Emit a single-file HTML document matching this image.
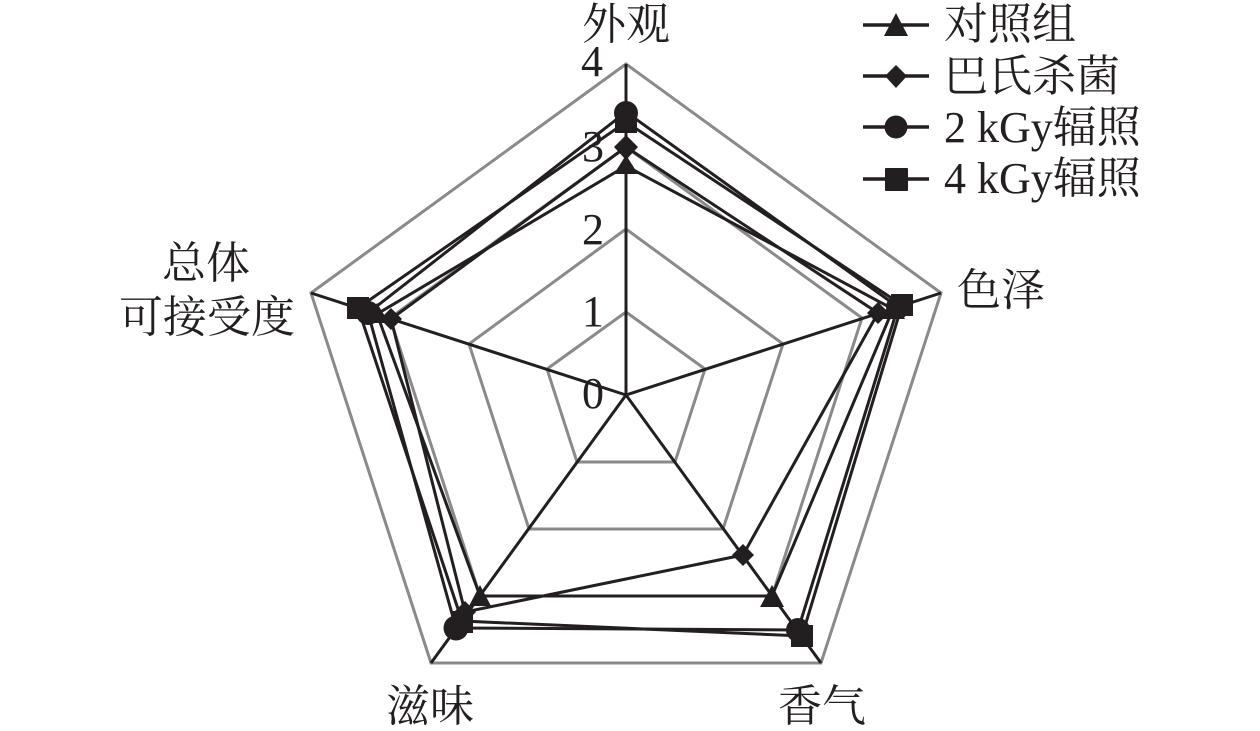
<!DOCTYPE html>
<html><head><meta charset="utf-8">
<style>
html,body{margin:0;padding:0;background:#fff;width:1260px;height:731px;overflow:hidden}
svg{display:block}
text{font-family:"Liberation Serif","Noto Serif CJK SC",serif;font-size:44px;fill:#231f20}
</style></head>
<body>
<svg width="1260" height="731" viewBox="0 0 1260 731" xmlns="http://www.w3.org/2000/svg">
<g fill="none" stroke="#8a8a8a" stroke-width="3" stroke-linejoin="miter">
<polygon points="626,64 941,293 821,663 431,663 311,293"/>
<polygon points="626,147 862,318 772,596 480,596 390,318"/>
<polygon points="626,229 783,344 723,529 529,529 469,344"/>
<polygon points="626,312 705,369 675,462 577,462 547,369"/>
</g>
<g stroke="#231f20" stroke-width="3">
<line x1="626" y1="395" x2="626" y2="64"/>
<line x1="626" y1="395" x2="941" y2="293"/>
<line x1="626" y1="395" x2="821" y2="663"/>
<line x1="626" y1="395" x2="431" y2="663"/>
<line x1="626" y1="395" x2="311" y2="293"/>
</g>
<g fill="none" stroke="#231f20" stroke-width="3" stroke-linejoin="miter">
<polygon points="626,166 893,309 772,596 480,596 377,314"/>
<polygon points="626,147 878,313 743,555 465,612 391,319"/>
<polygon points="626,112 898,307 798,630 456,628 368,313"/>
<polygon points="626,122 902,305 802,636 462,621 358,308"/>
</g>
<g fill="#231f20">
<polygon points="626,155 638,174 614,174"/>
<polygon points="893,298 905,319 881,319"/>
<polygon points="772,585 784,607 760,607"/>
<polygon points="480,585 491,606 469,606"/>
<polygon points="377,303 389,323 365,323"/>
<polygon points="626,135 638,147 626,160 614,147"/>
<polygon points="878,302 889,313 878,324 867,313"/>
<polygon points="743,544 754,555 743,566 732,555"/>
<polygon points="465,601 476,612 465,623 454,612"/>
<polygon points="391,308 402,319 391,330 380,319"/>
<circle cx="626" cy="113" r="12"/>
<circle cx="898" cy="307" r="12"/>
<circle cx="798" cy="630" r="12"/>
<circle cx="456" cy="628" r="12.5"/>
<circle cx="368" cy="313" r="12"/>
<rect x="615" y="111" width="22" height="22"/>
<rect x="891" y="294" width="22" height="22"/>
<rect x="791" y="625" width="22" height="22"/>
<rect x="451" y="611" width="22" height="22"/>
<rect x="347" y="297" width="22" height="22"/>
</g>
<g>
<text x="582" y="39">外观</text>
<text x="957" y="305">色泽</text>
<text x="778" y="721">香气</text>
<text x="386" y="721">滋味</text>
<text x="162" y="278">总体</text>
<text x="119" y="332">可接受度</text>
<text x="581" y="76">4</text>
<text x="582" y="161">3</text>
<text x="582" y="244">2</text>
<text x="582" y="326">1</text>
<text x="582" y="408">0</text>
</g>
<g stroke="#231f20" stroke-width="3.5">
<line x1="863" y1="25" x2="929" y2="25"/>
<line x1="863" y1="76" x2="929" y2="76"/>
<line x1="863" y1="127" x2="929" y2="127"/>
<line x1="863" y1="179" x2="929" y2="179"/>
</g>
<g fill="#231f20">
<polygon points="896,13 908,36 884,36"/>
<polygon points="896,65 907,76 896,88 885,76"/>
<circle cx="896" cy="127" r="11.5"/>
<rect x="885" y="168" width="23" height="23" rx="1"/>
</g>
<g>
<text x="944" y="39">对照组</text>
<text x="944" y="91">巴氏杀菌</text>
<text x="944" y="142">2 kGy辐照</text>
<text x="944" y="193">4 kGy辐照</text>
</g>
</svg>
</body></html>
